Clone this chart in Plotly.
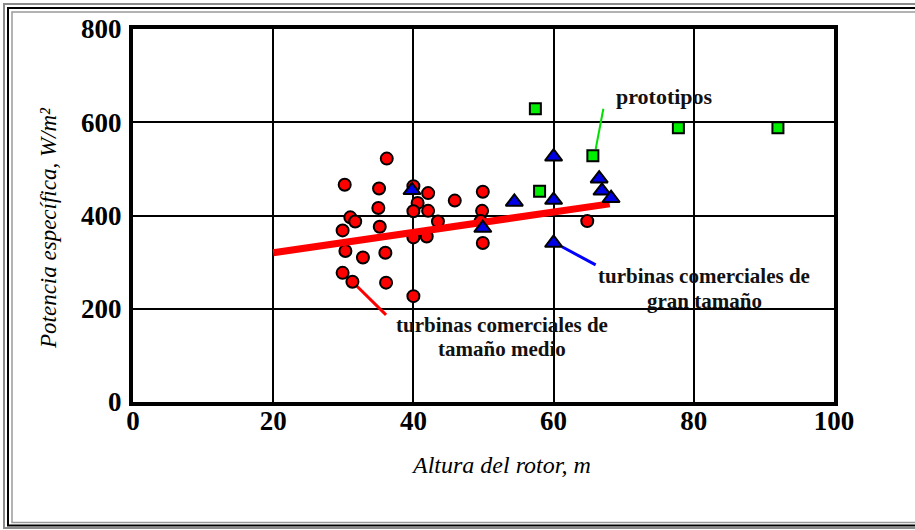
import plotly.graph_objects as go

# ---------------- data ----------------
# turbinas comerciales de tamaño medio (red circles)
medio_x = [30.2, 36.2, 35.1, 35.0, 31.0, 31.7, 29.9, 35.2, 30.3, 32.8,
           36.0, 29.9, 31.3, 36.1, 40.0, 40.0, 42.1, 40.6, 40.0, 42.1,
           40.0, 41.9, 43.5, 45.9, 49.9, 49.8, 49.6, 49.9, 64.8]
medio_y = [466, 522, 458, 416, 396, 387, 368, 376, 324, 310,
           320, 277, 258, 256, 227, 463, 448, 427, 409, 410,
           353, 355, 387, 432, 451, 410, 388, 341, 388]

# turbinas comerciales de gran tamaño (blue triangles)
gran_x = [39.8, 49.9, 54.4, 60.0, 60.0, 60.0, 66.5, 66.9, 68.2]
gran_y = [454, 373, 429, 526, 433, 341, 479, 453, 437]

# prototipos (green squares)
proto_x = [57.4, 58.0, 65.6, 77.8, 92.0]
proto_y = [629, 452, 528, 588, 588]

# trend line (red)
trend_x = [20, 68]
trend_y = [320, 425]

# leader lines of the labels
lead_medio_x = [31.7, 36.1]
lead_medio_y = [252, 187]
lead_gran_x = [61.2, 66.0]
lead_gran_y = [333, 294]
lead_proto_x = [66.0, 67.1]
lead_proto_y = [542, 629]

x_ticks = [0, 20, 40, 60, 80, 100]
y_ticks = [0, 200, 400, 600, 800]

# ---------------- figure ----------------
W, H = 915, 530
L, R, T, B = 133, 81, 29, 128
PW, PH = W - L - R, H - T - B

def px2paper_x(px):
    return (px - L) / PW

def px2paper_y(py):
    return (H - B - py) / PH

SERIF = "Liberation Serif"

fig = go.Figure()

fig.add_trace(go.Scatter(x=lead_medio_x, y=lead_medio_y, mode="lines",
                         line=dict(color="#ff0000", width=3), hoverinfo="skip", showlegend=False))
fig.add_trace(go.Scatter(x=lead_gran_x, y=lead_gran_y, mode="lines",
                         line=dict(color="#0000ff", width=3), hoverinfo="skip", showlegend=False))
fig.add_trace(go.Scatter(x=lead_proto_x, y=lead_proto_y, mode="lines",
                         line=dict(color="#00e000", width=2), hoverinfo="skip", showlegend=False))

fig.add_trace(go.Scatter(x=medio_x, y=medio_y, mode="markers",
                         marker=dict(symbol="circle", size=12, color="#ff0000",
                                     line=dict(color="black", width=2)),
                         name="turbinas comerciales de tamaño medio", showlegend=False))

fig.add_trace(go.Scatter(x=trend_x, y=trend_y, mode="lines",
                         line=dict(color="#ff0000", width=7), showlegend=False))

fig.add_trace(go.Scatter(x=gran_x, y=gran_y, mode="markers",
                         marker=dict(symbol="triangle-up", size=15, color="#0000e6",
                                     line=dict(color="black", width=2)),
                         name="turbinas comerciales de gran tamaño", showlegend=False))

fig.add_trace(go.Scatter(x=proto_x, y=proto_y, mode="markers",
                         marker=dict(symbol="square", size=11, color="#00ee00",
                                     line=dict(color="black", width=2)),
                         name="prototipos", showlegend=False))

ann_font = dict(family=SERIF, size=21, color="#111111", weight="bold")
annotations = [
    dict(x=75.8, y=655, text="prototipos", font=dict(ann_font, size=22)),
    dict(x=81.4, y=270, text="turbinas comerciales de"),
    dict(x=81.5, y=216, text="gran tamaño"),
    dict(x=52.7, y=166, text="turbinas comerciales de"),
    dict(x=52.7, y=113, text="tamaño medio"),
]
for a in annotations:
    a.setdefault("font", ann_font)
    a.update(xref="x", yref="y", showarrow=False, xanchor="center", yanchor="middle")

# axis titles placed as annotations
title_font = dict(family=SERIF, size=24, color="black", style="italic")
annotations.append(dict(xref="paper", yref="paper", x=px2paper_x(501), y=px2paper_y(465),
                        text="Altura del rotor, m", showarrow=False, font=title_font,
                        xanchor="center", yanchor="middle"))
annotations.append(dict(xref="paper", yref="paper", x=px2paper_x(48), y=px2paper_y(228),
                        text="Potencia específica, W/m²", showarrow=False,
                        font=dict(title_font, size=23), textangle=-90,
                        xanchor="center", yanchor="middle"))

# page frame (double border)
shapes = []
for inset_lt, bottom_px, color, w in [(4, 528, "#8a8a8a", 2), (8, 525.5, "black", 2), (12, 522.5, "#9a9a9a", 1.5)]:
    shapes.append(dict(type="rect", xref="paper", yref="paper",
                       x0=px2paper_x(inset_lt), x1=px2paper_x(W + 20),
                       y0=px2paper_y(bottom_px), y1=px2paper_y(inset_lt),
                       line=dict(color=color, width=w), fillcolor="rgba(0,0,0,0)",
                       layer="below"))

fig.update_layout(
    width=W, height=H,
    margin=dict(l=L, r=R, t=T, b=B, pad=0),
    paper_bgcolor="white", plot_bgcolor="white",
    annotations=annotations,
    shapes=shapes,
    showlegend=False,
)

tick_font = dict(family=SERIF, size=27, color="black", weight="bold")
fig.update_xaxes(
    range=[0, 100], tickvals=x_ticks, ticktext=[str(v) for v in x_ticks],
    showgrid=True, gridcolor="black", gridwidth=1.5, zeroline=False,
    showline=True, linecolor="black", linewidth=4, mirror=True,
    ticks="", tickfont=tick_font, ticklabelstandoff=-8,
)
fig.update_yaxes(
    range=[0, 800], tickvals=y_ticks, ticktext=[str(v) for v in y_ticks],
    showgrid=True, gridcolor="black", gridwidth=1.5, zeroline=False,
    showline=True, linecolor="black", linewidth=4, mirror=True,
    ticks="", tickfont=tick_font, ticklabelstandoff=2,
)

fig.write_html("out.html",
               config={"displayModeBar": False},
               post_script="document.body.style.margin='0';document.body.style.overflow='hidden';")
